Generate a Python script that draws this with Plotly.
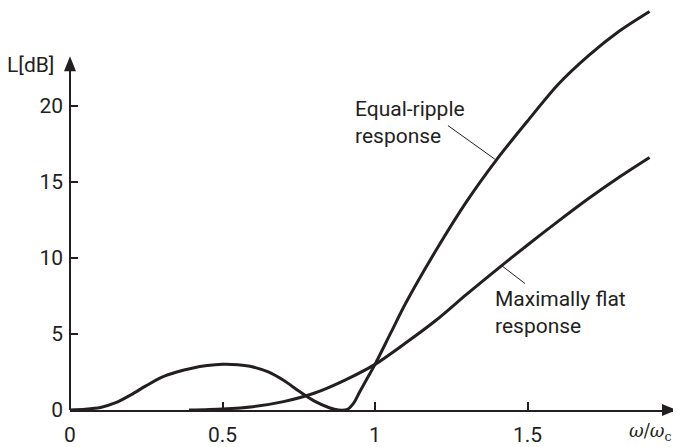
import plotly.graph_objects as go

# Equal-ripple response
er_x = [0.0, 0.05, 0.1, 0.15, 0.2, 0.25, 0.3, 0.35, 0.4, 0.45, 0.5, 0.55, 0.6, 0.65, 0.7,
        0.75, 0.8, 0.85, 0.88, 0.91, 0.93, 0.95, 0.975, 1.0, 1.05, 1.1, 1.2, 1.3, 1.4,
        1.5, 1.6, 1.7, 1.8, 1.9]
er_y = [0.0, 0.05, 0.17, 0.48, 1.0, 1.6, 2.15, 2.5, 2.75, 2.92, 3.0, 2.97, 2.83, 2.5, 1.95,
        1.25, 0.6, 0.15, 0.0, 0.05, 0.45, 1.2, 2.1, 3.0, 5.0, 7.0, 10.5, 13.7, 16.5,
        19.0, 21.4, 23.3, 24.9, 26.2]

# Maximally flat response
mf_x = [0.39, 0.5, 0.6, 0.7, 0.8, 0.9, 1.0, 1.1, 1.2, 1.3, 1.4, 1.5, 1.6, 1.7, 1.8, 1.9]
mf_y = [0.0, 0.07, 0.22, 0.55, 1.1, 1.95, 3.0, 4.4, 5.9, 7.6, 9.25, 10.85, 12.4, 13.9, 15.3, 16.6]

x_ticks = [0, 0.5, 1, 1.5]
x_tick_text = ["0", "0.5", "1", "1.5"]
y_ticks = [0, 5, 10, 15, 20]
y_tick_text = ["0", "5", "10", "15", "20"]

INK = "#231f20"
FONT = "Roboto, sans-serif"
FS = 21

X_MAX = 1.99
Y_MAX = 26.43
Y_AXIS_TOP = 23.25

fig = go.Figure()
fig.add_trace(go.Scatter(x=er_x, y=er_y, mode="lines",
                         line=dict(color=INK, width=3, shape="spline", smoothing=0.8),
                         hoverinfo="skip", showlegend=False))
fig.add_trace(go.Scatter(x=mf_x, y=mf_y, mode="lines",
                         line=dict(color=INK, width=3, shape="spline", smoothing=0.8),
                         hoverinfo="skip", showlegend=False))

# page has an 8px body margin: figure is 673x439, placed at (8, 8)
fig.update_layout(
    width=673, height=439,
    margin=dict(l=62, r=4, t=0, b=32, pad=0),
    plot_bgcolor="white", paper_bgcolor="white",
    font=dict(family=FONT, size=FS, color=INK),
    showlegend=False,
)
fig.update_xaxes(range=[0, X_MAX], showgrid=False, zeroline=False,
                 showline=True, linewidth=2, linecolor=INK,
                 ticks="inside", ticklen=8, tickwidth=1.5, tickcolor=INK,
                 tickvals=x_ticks, ticktext=x_tick_text, ticklabelstandoff=5,
                 tickfont=dict(family=FONT, size=FS, color=INK))
fig.update_yaxes(range=[0, Y_MAX], showgrid=False, zeroline=False,
                 showline=False,
                 ticks="inside", ticklen=8, tickwidth=1.5, tickcolor=INK,
                 tickvals=y_ticks, ticktext=y_tick_text, ticklabelstandoff=6,
                 tickfont=dict(family=FONT, size=FS, color=INK))

yd_top = Y_AXIS_TOP / Y_MAX
pw, ph = 607.0, 407.0
# y axis line
fig.add_shape(type="line", xref="x domain", yref="y domain",
              x0=0, x1=0, y0=0, y1=yd_top - 10/ph, line=dict(color=INK, width=2))
# arrowheads
fig.add_shape(type="path", xref="x domain", yref="y domain",
              path=f"M 0 {yd_top} L {-6/pw} {yd_top-15/ph} L {6/pw} {yd_top-15/ph} Z",
              fillcolor=INK, line=dict(color=INK, width=0))
fig.add_shape(type="path", xref="x domain", yref="y domain",
              path=f"M 1 0 L {1-15/pw} {6/ph} L {1-15/pw} {-6/ph} Z",
              fillcolor=INK, line=dict(color=INK, width=0))

# leader lines
fig.add_shape(type="line", x0=1.239, y0=18.70, x1=1.393, y1=16.49, line=dict(color=INK, width=1))
fig.add_shape(type="line", x0=1.416, y0=9.48, x1=1.492, y1=8.31, line=dict(color=INK, width=1))

fig.add_annotation(xref="paper", yref="paper", x=-0.0643, y=0.8575, text="L[dB]",
                   showarrow=False, xanchor="center", yanchor="middle", font=dict(size=FS))
fig.add_annotation(x=0.928, y=18.9, text="Equal-ripple<br>response", showarrow=False,
                   xanchor="left", yanchor="middle", align="left", font=dict(size=FS))
fig.add_annotation(x=1.387, y=6.43, text="Maximally flat<br>response", showarrow=False,
                   xanchor="left", yanchor="middle", align="left", font=dict(size=FS))
fig.add_annotation(xref="paper", yref="paper", x=0.92, y=-0.054,
                   text="<i>ω</i>/<i>ω</i><sub>c</sub>", showarrow=False,
                   xanchor="left", yanchor="middle", borderpad=0,
                   font=dict(family="DejaVu Serif, Liberation Serif, serif", size=18))

fig.write_html("out.html")
